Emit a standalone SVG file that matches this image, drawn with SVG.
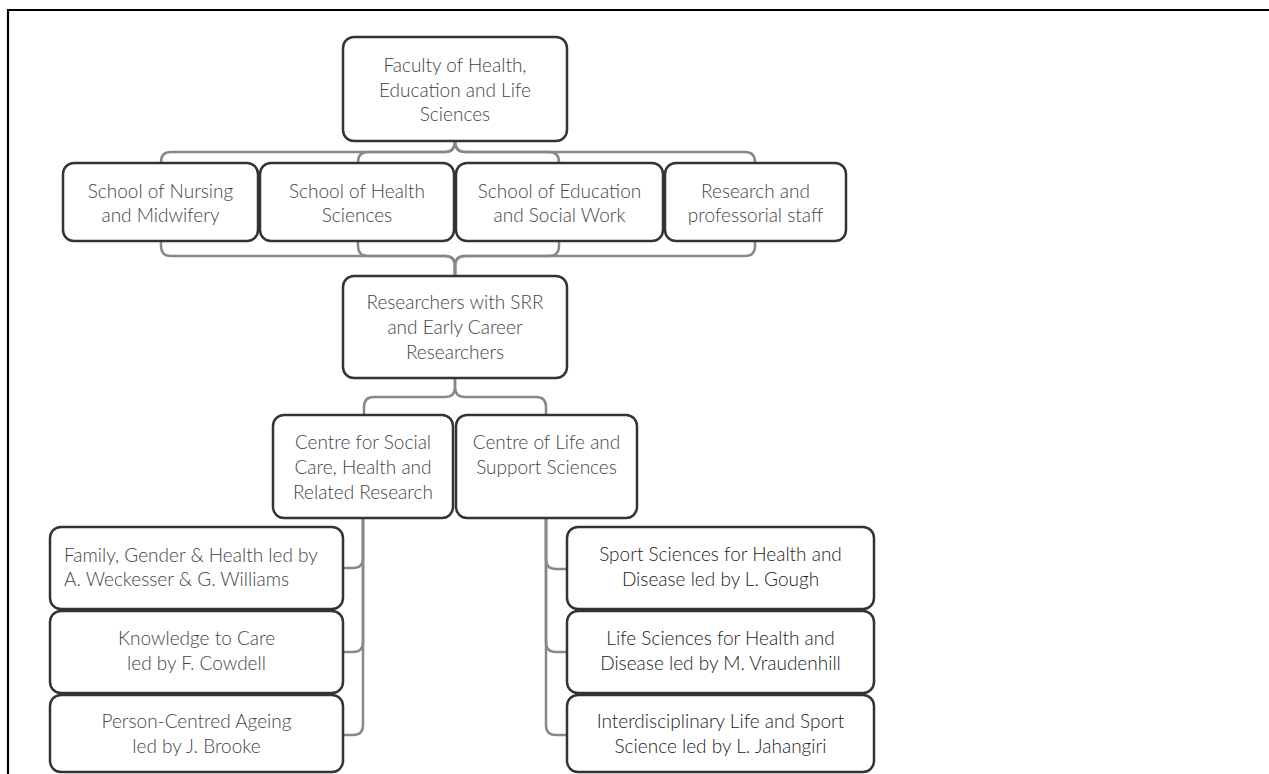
<svg xmlns="http://www.w3.org/2000/svg" width="1269" height="774" viewBox="0 0 1269 774">
<style>
.box{fill:#fff;stroke:#333;stroke-width:2.5}
.c{fill:none;stroke:#888;stroke-width:2.5}
text{font-family:Lato,"Open Sans","Liberation Sans",sans-serif;font-size:19px;font-weight:300;fill:#444;text-anchor:middle}
.dk{fill:#1a1a1a}
.l{text-anchor:start}
</style>
<rect width="1269" height="774" fill="#fff"/>
<path d="M8 774 V10 H1269" fill="none" stroke="#000" stroke-width="2.2"/>
<g id="connectors">
<path class="c" d="M455 141 Q455 152 445 152 H171 Q161 152 161 162 V163"/>
<path class="c" d="M455 141 Q455 152 445 152 H368 Q358 152 358 162 V163"/>
<path class="c" d="M455 141 Q455 152 465 152 H549 Q559 152 559 162 V163"/>
<path class="c" d="M455 141 Q455 152 465 152 H745 Q755 152 755 162 V163"/>
<path class="c" d="M161 241 V246 Q161 256 171 256 H445 Q455 256 455 266 V276"/>
<path class="c" d="M358 241 V246 Q358 256 368 256 H445 Q455 256 455 266 V276"/>
<path class="c" d="M559 241 V246 Q559 256 549 256 H465 Q455 256 455 266 V276"/>
<path class="c" d="M755 241 V246 Q755 256 745 256 H465 Q455 256 455 266 V276"/>
<path class="c" d="M455 378 V387 Q455 397 445 397 H374 Q364 397 364 407 V415"/>
<path class="c" d="M455 378 V387 Q455 397 465 397 H536 Q546 397 546 407 V415"/>
<path class="c" d="M363 518 V558 Q363 568 353 568 H343"/>
<path class="c" d="M363 518 V642 Q363 652 353 652 H343"/>
<path class="c" d="M363 518 V725 Q363 735 353 735 H343"/>
<path class="c" d="M546 518 V559 Q546 569 556 569 H567"/>
<path class="c" d="M546 518 V642 Q546 652 556 652 H567"/>
<path class="c" d="M546 518 V725 Q546 735 556 735 H567"/>
</g>
<g id="faculty"><rect class="box" x="343" y="37" width="224" height="104" rx="11"/>
<text x="455" y="72">Faculty of Health,</text><text x="455" y="96.5">Education and Life</text><text x="455" y="121">Sciences</text></g>
<g id="nursing"><rect class="box" x="63" y="163" width="195" height="78" rx="11"/>
<text x="160.5" y="198">School of Nursing</text><text x="160.5" y="222">and Midwifery</text></g>
<g id="health"><rect class="box" x="260" y="163" width="194" height="78" rx="11"/>
<text x="357" y="198">School of Health</text><text x="357" y="222">Sciences</text></g>
<g id="education"><rect class="box" x="456" y="163" width="207" height="78" rx="11"/>
<text x="559.5" y="198">School of Education</text><text x="559.5" y="222">and Social Work</text></g>
<g id="research-staff"><rect class="box" x="665" y="163" width="181" height="78" rx="11"/>
<text x="755.5" y="198">Research and</text><text x="755.5" y="222">professorial staff</text></g>
<g id="researchers"><rect class="box" x="343" y="276" width="224" height="102" rx="11"/>
<text x="455" y="309">Researchers with SRR</text><text x="455" y="334">and Early Career</text><text x="455" y="359">Researchers</text></g>
<g id="centre-social"><rect class="box" x="273" y="415" width="180" height="103" rx="11"/>
<text x="363" y="449">Centre for Social</text><text x="363" y="474">Care, Health and</text><text x="363" y="499">Related Research</text></g>
<g id="centre-life"><rect class="box" x="456" y="415" width="181" height="103" rx="11"/>
<text x="546.5" y="449">Centre of Life and</text><text x="546.5" y="474">Support Sciences</text></g>
<g id="family"><rect class="box" x="50" y="527" width="293" height="82" rx="11"/>
<text class="l" x="64" y="561.5">Family, Gender &amp; Health led by</text><text class="l" x="64" y="586">A. Weckesser &amp; G. Williams</text></g>
<g id="knowledge"><rect class="box" x="50" y="611" width="293" height="82" rx="11"/>
<text x="196.5" y="645">Knowledge to Care</text><text x="196.5" y="670">led by F. Cowdell</text></g>
<g id="person"><rect class="box" x="50" y="695" width="293" height="77" rx="11"/>
<text x="196.5" y="728">Person-Centred Ageing</text><text x="196.5" y="753">led by J. Brooke</text></g>
<g id="sport"><rect class="box" x="567" y="527" width="307" height="82" rx="11"/>
<text class="dk" x="720.5" y="561">Sport Sciences for Health and</text><text class="dk" x="720.5" y="586">Disease led by L. Gough</text></g>
<g id="life"><rect class="box" x="567" y="611" width="307" height="82" rx="11"/>
<text class="dk" x="720.5" y="644.5">Life Sciences for Health and</text><text class="dk" x="720.5" y="669.5">Disease led by M. Vraudenhill</text></g>
<g id="interdisciplinary"><rect class="box" x="567" y="695" width="307" height="77" rx="11"/>
<text class="dk" x="720.5" y="728">Interdisciplinary Life and Sport</text><text class="dk" x="720.5" y="753">Science led by L. Jahangiri</text></g>
</svg>
